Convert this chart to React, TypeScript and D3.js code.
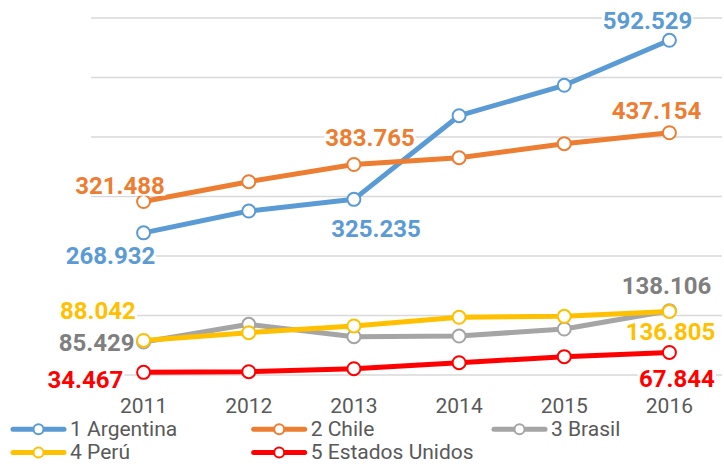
import React from "react";
import * as d3 from "d3";

const years = ["2011", "2012", "2013", "2014", "2015", "2016"];
const seriesNames = ["1 Argentina", "2 Chile", "3 Brasil", "4 Perú", "5 Estados Unidos"];
const argentina = [268.932, 305.6, 325.235, 465.8, 516.9, 592.529];
const chile = [321.488, 354.9, 383.765, 395.2, 418.8, 437.154];
const brasil = [85.429, 115.2, 94.4, 95.5, 107.3, 138.106];
const peru = [88.042, 101.1, 112.4, 127.0, 128.6, 136.805];
const estadosUnidos = [34.467, 35.5, 40.6, 50.7, 60.8, 67.844];
const yTicks = [30, 130, 230, 330, 430, 530, 630];

// which points carry a data label (index into years)
const labelledPoints = [
  [0, 2, 5],
  [0, 2, 5],
  [0, 5],
  [0, 5],
  [0, 5],
];

// styling / placement (not data)
const lineColors = ["#5B9BD5", "#ED7D31", "#A5A5A5", "#FFC000", "#FF0000"];
const labelColors = ["#5B9BD5", "#ED7D31", "#7F7F7F", "#FFC000", "#FF0000"];
const labelOffsets: Record<string, [number, number]> = {
  "0-0": [-33, 31],
  "0-2": [22, 37.4],
  "0-5": [-22, -11],
  "1-0": [-23.6, -7.3],
  "1-2": [16, -18.8],
  "1-5": [-13, -13.4],
  "2-0": [-47, 9],
  "2-5": [-3, -16.7],
  "3-0": [-45.6, -21.2],
  "3-5": [1, 28.6],
  "4-0": [-58.3, 15.7],
  "4-5": [7.4, 34.5],
};
const legendPos = [
  [11, 429.3],
  [251.7, 429.3],
  [492, 429.3],
  [11, 452.5],
  [251.7, 452.5],
];

const W = 724;
const H = 464;
const FONT = "Roboto, 'Noto Sans', sans-serif";

export default function App() {
  const allSeries = [argentina, chile, brasil, peru, estadosUnidos];
  const x = d3.scaleBand().domain(years).range([91, 722]);
  const y = d3.scaleLinear().domain([30, 630]).range([375, 18]);
  const cx = (yr: string) => (x(yr) as number) + x.bandwidth() / 2;
  const line = d3
    .line<number>()
    .x((_, i) => cx(years[i]))
    .y((v) => y(v));

  const labelFont = 24;
  const charW = (s: string) => s.length * 0.53 * labelFont;

  return (
    <div style={{ position: "fixed", left: 0, top: 0, width: W, height: H, background: "#fff" }}>
      <svg width={W} height={H} style={{ display: "block" }} fontFamily={FONT}>
        <rect width={W} height={H} fill="#fff" />
        {yTicks.map((t) => (
          <line key={t} x1={91} x2={722} y1={y(t)} y2={y(t)} stroke="#D9D9D9" strokeWidth={1.5} />
        ))}
        {years.map((yr) => (
          <text
            key={yr}
            x={cx(yr)}
            y={412.5}
            textAnchor="middle"
            fontSize={21}
            fill="#595959"
          >
            {yr}
          </text>
        ))}
        {allSeries.map((vals, si) => (
          <g key={si}>
            <path
              d={line(vals) || ""}
              fill="none"
              stroke={lineColors[si]}
              strokeWidth={5}
              strokeLinejoin="round"
              strokeLinecap="round"
            />
            {vals.map((v, i) => (
              <circle
                key={i}
                cx={cx(years[i])}
                cy={y(v)}
                r={6.5}
                fill="#fff"
                stroke={lineColors[si]}
                strokeWidth={2}
              />
            ))}
          </g>
        ))}
        {allSeries.map((vals, si) =>
          labelledPoints[si].map((i) => {
            const [dx, dy] = labelOffsets[`${si}-${i}`];
            const tx = cx(years[i]) + dx;
            const ty = y(vals[i]) + dy;
            const txt = d3.format(".3f")(vals[i]);
            const w = charW(txt);
            return (
              <g key={`${si}-${i}`}>
                <rect x={tx - w / 2 - 1} y={ty - 19} width={w + 2} height={20.5} fill="#fff" />
                <text
                  x={tx}
                  y={ty}
                  textAnchor="middle"
                  fontSize={labelFont}
                  fontWeight="bold"
                  fill={labelColors[si]}
                >
                  {txt}
                </text>
              </g>
            );
          })
        )}
        {seriesNames.map((name, si) => {
          const [lx, ly] = legendPos[si];
          return (
            <g key={name}>
              <line
                x1={lx + 2}
                x2={lx + 53}
                y1={ly}
                y2={ly}
                stroke={lineColors[si]}
                strokeWidth={5}
                strokeLinecap="round"
              />
              <circle cx={lx + 27.5} cy={ly} r={5} fill="#fff" stroke={lineColors[si]} strokeWidth={2} />
              <text x={lx + 59} y={ly + 6.8} fontSize={21} fill="#595959">
                {name}
              </text>
            </g>
          );
        })}
      </svg>
    </div>
  );
}
